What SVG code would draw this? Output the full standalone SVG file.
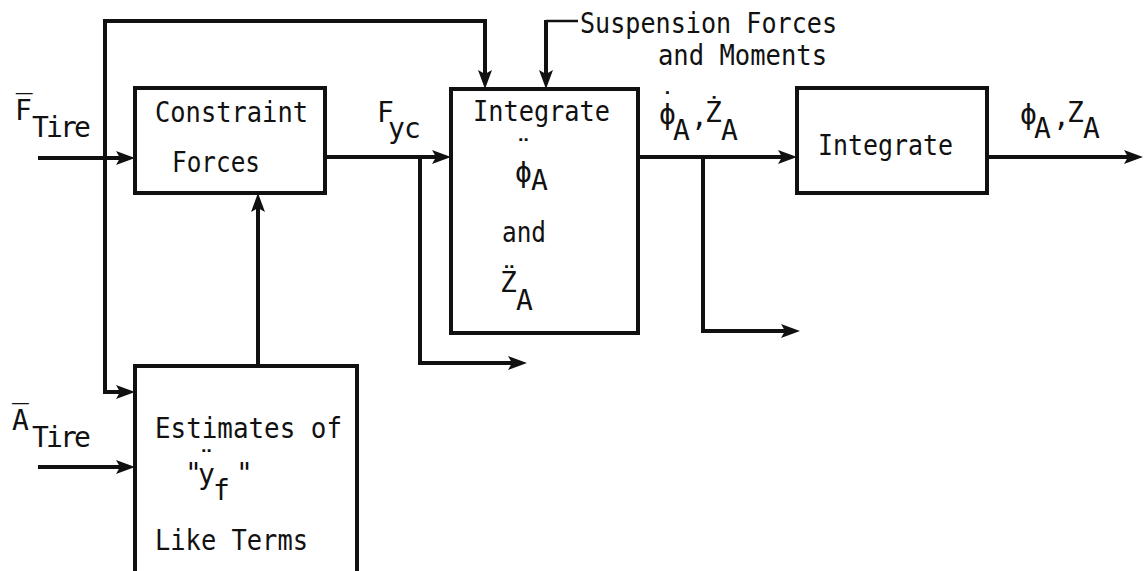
<svg xmlns="http://www.w3.org/2000/svg" width="1145" height="571" viewBox="0 0 1145 571">
  <style>
    text { font-family: "DejaVu Sans Mono", "Liberation Mono", monospace; font-size: 28px; fill: #111; }
    .box { fill: #fff; stroke: #111; stroke-width: 4; stroke-linejoin: miter; }
    .wire { fill: none; stroke: #111; stroke-width: 4; stroke-linejoin: miter; }
    .thin { fill: none; stroke: #111; stroke-width: 2.5; }
  </style>
  <defs>
    <marker id="arrow" markerUnits="userSpaceOnUse" markerWidth="22" markerHeight="16" refX="11" refY="7" orient="auto">
      <path d="M0,0 L19,7 L0,14 L4,7 Z" fill="#111"/>
    </marker>
  </defs>
  <rect width="1145" height="571" fill="#fff"/>

  <!-- signal lines -->
  <g id="connectors">
    <path class="wire" d="M38,158 H127" marker-end="url(#arrow)"/>
    <path class="wire" d="M105,158 V21 H485 V81" marker-end="url(#arrow)"/>
    <path class="wire" d="M105,158 V392 H127" marker-end="url(#arrow)"/>
    <path class="wire" d="M38,467 H127" marker-end="url(#arrow)"/>
    <path class="wire" d="M258,366 V201" marker-end="url(#arrow)"/>
    <path class="wire" d="M325,157 H443" marker-end="url(#arrow)"/>
    <path class="wire" d="M420,157 V363 H519" marker-end="url(#arrow)"/>
    <path class="thin" d="M578,21 H546"/>
    <path class="wire" d="M546,20 V81" marker-end="url(#arrow)"/>
    <path class="wire" d="M638,157 H789" marker-end="url(#arrow)"/>
    <path class="wire" d="M703,157 V331 H792" marker-end="url(#arrow)"/>
    <path class="wire" d="M987,157 H1135" marker-end="url(#arrow)"/>
  </g>

  <!-- input / signal labels -->
  <g id="label-f-tire">
    <text><tspan x="15" y="120">F&#x0305;</tspan><tspan x="32 46 60 74" y="137">Tire</tspan></text>
  </g>
  <g id="label-a-tire">
    <text><tspan x="12" y="430">A&#x0305;</tspan><tspan x="32 46 60 74" y="447">Tire</tspan></text>
  </g>
  <g id="label-fyc">
    <text><tspan x="377" y="122">F</tspan><tspan x="388 404" y="138">yc</tspan></text>
  </g>
  <g id="label-suspension">
    <text x="580" y="33" textLength="257" lengthAdjust="spacingAndGlyphs">Suspension Forces</text>
    <text x="658" y="65" textLength="169" lengthAdjust="spacingAndGlyphs">and Moments</text>
  </g>
  <g id="label-rates">
    <text><tspan x="659" y="113">&#x02D9;</tspan><tspan x="659" y="124">&#x03D5;</tspan><tspan x="673" y="140">A</tspan><tspan x="691" y="126">,</tspan><tspan x="705" y="122">&#x017B;</tspan><tspan x="721" y="140">A</tspan></text>
  </g>
  <g id="label-states">
    <text><tspan x="1020" y="124">&#x03D5;</tspan><tspan x="1034" y="138">A</tspan><tspan x="1053" y="126">,</tspan><tspan x="1067" y="122">Z</tspan><tspan x="1083" y="138">A</tspan></text>
  </g>

  <!-- blocks -->
  <g id="constraint-forces">
    <rect class="box" x="135" y="88" width="190" height="105"/>
    <text x="155" y="122" textLength="153" lengthAdjust="spacingAndGlyphs">Constraint</text>
    <text x="172" y="172" textLength="88" lengthAdjust="spacingAndGlyphs">Forces</text>
  </g>

  <g id="integrate-accel">
    <rect class="box" x="451" y="89" width="187" height="244"/>
    <text x="473" y="121" textLength="137" lengthAdjust="spacingAndGlyphs">Integrate</text>
    <text><tspan x="515" y="160">&#x00A8;</tspan><tspan x="515" y="182">&#x03D5;</tspan><tspan x="531" y="190">A</tspan></text>
    <text x="502" y="242" textLength="44" lengthAdjust="spacingAndGlyphs">and</text>
    <text><tspan x="500" y="292">&#x005A;&#x0308;</tspan><tspan x="516" y="310">A</tspan></text>
  </g>

  <g id="integrate-rates">
    <rect class="box" x="797" y="88" width="190" height="105"/>
    <text x="818" y="155" textLength="135" lengthAdjust="spacingAndGlyphs">Integrate</text>
  </g>

  <g id="estimates">
    <rect class="box" x="135" y="366" width="222" height="212"/>
    <text x="155" y="438" textLength="187" lengthAdjust="spacingAndGlyphs">Estimates of</text>
    <text><tspan x="185" y="483">"</tspan><tspan x="198" y="471">&#x00A8;</tspan><tspan x="198" y="484">y</tspan><tspan x="213" y="500">f</tspan><tspan x="236" y="483">"</tspan></text>
    <text x="155" y="550" textLength="153" lengthAdjust="spacingAndGlyphs">Like Terms</text>
  </g>
</svg>
